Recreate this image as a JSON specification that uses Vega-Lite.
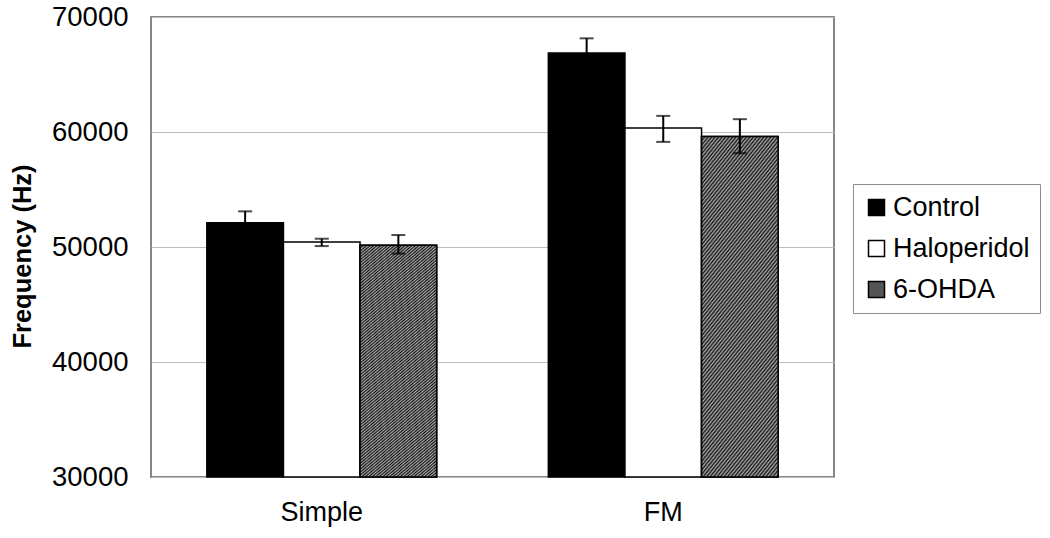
{
  "$schema": "https://vega.github.io/schema/vega-lite/v6.json",
  "width": 683,
  "height": 460,
  "autosize": {"type": "none"},
  "padding": {"left": 151, "top": 17, "right": 216, "bottom": 61},
  "background": "white",
  "config": {
    "font": "Liberation Sans",
    "view": {"stroke": "#868686", "strokeWidth": 2}
  },
  "data": {
    "values": [
      {"test": "Simple", "group": "Control", "mean": 52117, "lo": 51130, "hi": 53100},
      {"test": "Simple", "group": "Haloperidol", "mean": 50430, "lo": 50080, "hi": 50720},
      {"test": "Simple", "group": "6-OHDA", "mean": 50150, "lo": 49420, "hi": 51040},
      {"test": "FM", "group": "Control", "mean": 66860, "lo": 65575, "hi": 68145},
      {"test": "FM", "group": "Haloperidol", "mean": 60357, "lo": 59140, "hi": 61400},
      {"test": "FM", "group": "6-OHDA", "mean": 59608, "lo": 58153, "hi": 61115}
    ]
  },
  "encoding": {
    "x": {
      "field": "test", "type": "nominal", "sort": ["Simple", "FM"],
      "scale": {"paddingInner": 0.327, "paddingOuter": 0.1635},
      "axis": {"title": null, "labelAngle": 0, "labelFontSize": 27, "labelColor": "black", "ticks": false, "domain": false, "labelPadding": 22}
    },
    "xOffset": {
      "field": "group", "type": "nominal", "sort": ["Control", "Haloperidol", "6-OHDA"],
      "scale": {"paddingInner": 0, "paddingOuter": 0}
    }
  },
  "layer": [
    {
      "mark": {"type": "bar", "stroke": "black", "strokeWidth": 1.5},
      "encoding": {
        "y": {
          "field": "mean", "type": "quantitative",
          "scale": {"domain": [30000, 70000], "nice": false, "zero": false},
          "axis": {
            "title": "Frequency (Hz)", "titleFontSize": 25.5, "titleFontWeight": "bold", "titleColor": "black", "titlePadding": 16, "titleY": 239,
            "values": [30000, 40000, 50000, 60000, 70000], "format": "d",
            "labelFontSize": 27.5, "labelColor": "black", "labelPadding": 23,
            "ticks": false, "domain": false, "grid": true, "gridColor": "#bdbdbd", "gridWidth": 1.2
          }
        },
        "y2": {"datum": 30000},
        "fill": {
          "field": "group", "type": "nominal",
          "scale": {"domain": ["Control", "Haloperidol", "6-OHDA"], "range": ["#000000", "#ffffff", "#555555"]},
          "legend": {
            "title": null, "orient": "none", "legendX": 702, "legendY": 167,
            "strokeColor": "#8c8c8c", "padding": 10,
            "symbolType": "square", "symbolSize": 256, "symbolStrokeColor": "black", "symbolStrokeWidth": 1.5,
            "labelFontSize": 27, "labelColor": "black", "labelOffset": 3, "rowPadding": 13
          }
        }
      }
    },
    {
      "transform": [{"filter": "datum.group === '6-OHDA'"}],
      "mark": {
        "type": "bar", "stroke": "black", "strokeWidth": 1.5,
        "fill": {
          "gradient": "linear", "x1": 0, "y1": 0, "x2": 0.33, "y2": 1.18,
          "stops": [
            {"offset":0,"color":"#151515"},{"offset":0.005,"color":"#a8a8a8"},{"offset":0.01,"color":"#151515"},{"offset":0.015,"color":"#a8a8a8"},{"offset":0.02,"color":"#151515"},{"offset":0.025,"color":"#a8a8a8"},{"offset":0.03,"color":"#151515"},{"offset":0.035,"color":"#a8a8a8"},{"offset":0.04,"color":"#151515"},{"offset":0.045,"color":"#a8a8a8"},
            {"offset":0.05,"color":"#151515"},{"offset":0.055,"color":"#a8a8a8"},{"offset":0.06,"color":"#151515"},{"offset":0.065,"color":"#a8a8a8"},{"offset":0.07,"color":"#151515"},{"offset":0.075,"color":"#a8a8a8"},{"offset":0.08,"color":"#151515"},{"offset":0.085,"color":"#a8a8a8"},{"offset":0.09,"color":"#151515"},{"offset":0.095,"color":"#a8a8a8"},
            {"offset":0.1,"color":"#151515"},{"offset":0.105,"color":"#a8a8a8"},{"offset":0.11,"color":"#151515"},{"offset":0.115,"color":"#a8a8a8"},{"offset":0.12,"color":"#151515"},{"offset":0.125,"color":"#a8a8a8"},{"offset":0.13,"color":"#151515"},{"offset":0.135,"color":"#a8a8a8"},{"offset":0.14,"color":"#151515"},{"offset":0.145,"color":"#a8a8a8"},
            {"offset":0.15,"color":"#151515"},{"offset":0.155,"color":"#a8a8a8"},{"offset":0.16,"color":"#151515"},{"offset":0.165,"color":"#a8a8a8"},{"offset":0.17,"color":"#151515"},{"offset":0.175,"color":"#a8a8a8"},{"offset":0.18,"color":"#151515"},{"offset":0.185,"color":"#a8a8a8"},{"offset":0.19,"color":"#151515"},{"offset":0.195,"color":"#a8a8a8"},
            {"offset":0.2,"color":"#151515"},{"offset":0.205,"color":"#a8a8a8"},{"offset":0.21,"color":"#151515"},{"offset":0.215,"color":"#a8a8a8"},{"offset":0.22,"color":"#151515"},{"offset":0.225,"color":"#a8a8a8"},{"offset":0.23,"color":"#151515"},{"offset":0.235,"color":"#a8a8a8"},{"offset":0.24,"color":"#151515"},{"offset":0.245,"color":"#a8a8a8"},
            {"offset":0.25,"color":"#151515"},{"offset":0.255,"color":"#a8a8a8"},{"offset":0.26,"color":"#151515"},{"offset":0.265,"color":"#a8a8a8"},{"offset":0.27,"color":"#151515"},{"offset":0.275,"color":"#a8a8a8"},{"offset":0.28,"color":"#151515"},{"offset":0.285,"color":"#a8a8a8"},{"offset":0.29,"color":"#151515"},{"offset":0.295,"color":"#a8a8a8"},
            {"offset":0.3,"color":"#151515"},{"offset":0.305,"color":"#a8a8a8"},{"offset":0.31,"color":"#151515"},{"offset":0.315,"color":"#a8a8a8"},{"offset":0.32,"color":"#151515"},{"offset":0.325,"color":"#a8a8a8"},{"offset":0.33,"color":"#151515"},{"offset":0.335,"color":"#a8a8a8"},{"offset":0.34,"color":"#151515"},{"offset":0.345,"color":"#a8a8a8"},
            {"offset":0.35,"color":"#151515"},{"offset":0.355,"color":"#a8a8a8"},{"offset":0.36,"color":"#151515"},{"offset":0.365,"color":"#a8a8a8"},{"offset":0.37,"color":"#151515"},{"offset":0.375,"color":"#a8a8a8"},{"offset":0.38,"color":"#151515"},{"offset":0.385,"color":"#a8a8a8"},{"offset":0.39,"color":"#151515"},{"offset":0.395,"color":"#a8a8a8"},
            {"offset":0.4,"color":"#151515"},{"offset":0.405,"color":"#a8a8a8"},{"offset":0.41,"color":"#151515"},{"offset":0.415,"color":"#a8a8a8"},{"offset":0.42,"color":"#151515"},{"offset":0.425,"color":"#a8a8a8"},{"offset":0.43,"color":"#151515"},{"offset":0.435,"color":"#a8a8a8"},{"offset":0.44,"color":"#151515"},{"offset":0.445,"color":"#a8a8a8"},
            {"offset":0.45,"color":"#151515"},{"offset":0.455,"color":"#a8a8a8"},{"offset":0.46,"color":"#151515"},{"offset":0.465,"color":"#a8a8a8"},{"offset":0.47,"color":"#151515"},{"offset":0.475,"color":"#a8a8a8"},{"offset":0.48,"color":"#151515"},{"offset":0.485,"color":"#a8a8a8"},{"offset":0.49,"color":"#151515"},{"offset":0.495,"color":"#a8a8a8"},
            {"offset":0.5,"color":"#151515"},{"offset":0.505,"color":"#a8a8a8"},{"offset":0.51,"color":"#151515"},{"offset":0.515,"color":"#a8a8a8"},{"offset":0.52,"color":"#151515"},{"offset":0.525,"color":"#a8a8a8"},{"offset":0.53,"color":"#151515"},{"offset":0.535,"color":"#a8a8a8"},{"offset":0.54,"color":"#151515"},{"offset":0.545,"color":"#a8a8a8"},
            {"offset":0.55,"color":"#151515"},{"offset":0.555,"color":"#a8a8a8"},{"offset":0.56,"color":"#151515"},{"offset":0.565,"color":"#a8a8a8"},{"offset":0.57,"color":"#151515"},{"offset":0.575,"color":"#a8a8a8"},{"offset":0.58,"color":"#151515"},{"offset":0.585,"color":"#a8a8a8"},{"offset":0.59,"color":"#151515"},{"offset":0.595,"color":"#a8a8a8"},
            {"offset":0.6,"color":"#151515"},{"offset":0.605,"color":"#a8a8a8"},{"offset":0.61,"color":"#151515"},{"offset":0.615,"color":"#a8a8a8"},{"offset":0.62,"color":"#151515"},{"offset":0.625,"color":"#a8a8a8"},{"offset":0.63,"color":"#151515"},{"offset":0.635,"color":"#a8a8a8"},{"offset":0.64,"color":"#151515"},{"offset":0.645,"color":"#a8a8a8"},
            {"offset":0.65,"color":"#151515"},{"offset":0.655,"color":"#a8a8a8"},{"offset":0.66,"color":"#151515"},{"offset":0.665,"color":"#a8a8a8"},{"offset":0.67,"color":"#151515"},{"offset":0.675,"color":"#a8a8a8"},{"offset":0.68,"color":"#151515"},{"offset":0.685,"color":"#a8a8a8"},{"offset":0.69,"color":"#151515"},{"offset":0.695,"color":"#a8a8a8"},
            {"offset":0.7,"color":"#151515"},{"offset":0.705,"color":"#a8a8a8"},{"offset":0.71,"color":"#151515"},{"offset":0.715,"color":"#a8a8a8"},{"offset":0.72,"color":"#151515"},{"offset":0.725,"color":"#a8a8a8"},{"offset":0.73,"color":"#151515"},{"offset":0.735,"color":"#a8a8a8"},{"offset":0.74,"color":"#151515"},{"offset":0.745,"color":"#a8a8a8"},
            {"offset":0.75,"color":"#151515"},{"offset":0.755,"color":"#a8a8a8"},{"offset":0.76,"color":"#151515"},{"offset":0.765,"color":"#a8a8a8"},{"offset":0.77,"color":"#151515"},{"offset":0.775,"color":"#a8a8a8"},{"offset":0.78,"color":"#151515"},{"offset":0.785,"color":"#a8a8a8"},{"offset":0.79,"color":"#151515"},{"offset":0.795,"color":"#a8a8a8"},
            {"offset":0.8,"color":"#151515"},{"offset":0.805,"color":"#a8a8a8"},{"offset":0.81,"color":"#151515"},{"offset":0.815,"color":"#a8a8a8"},{"offset":0.82,"color":"#151515"},{"offset":0.825,"color":"#a8a8a8"},{"offset":0.83,"color":"#151515"},{"offset":0.835,"color":"#a8a8a8"},{"offset":0.84,"color":"#151515"},{"offset":0.845,"color":"#a8a8a8"},
            {"offset":0.85,"color":"#151515"},{"offset":0.855,"color":"#a8a8a8"},{"offset":0.86,"color":"#151515"},{"offset":0.865,"color":"#a8a8a8"},{"offset":0.87,"color":"#151515"},{"offset":0.875,"color":"#a8a8a8"},{"offset":0.88,"color":"#151515"},{"offset":0.885,"color":"#a8a8a8"},{"offset":0.89,"color":"#151515"},{"offset":0.895,"color":"#a8a8a8"},
            {"offset":0.9,"color":"#151515"},{"offset":0.905,"color":"#a8a8a8"},{"offset":0.91,"color":"#151515"},{"offset":0.915,"color":"#a8a8a8"},{"offset":0.92,"color":"#151515"},{"offset":0.925,"color":"#a8a8a8"},{"offset":0.93,"color":"#151515"},{"offset":0.935,"color":"#a8a8a8"},{"offset":0.94,"color":"#151515"},{"offset":0.945,"color":"#a8a8a8"},
            {"offset":0.95,"color":"#151515"},{"offset":0.955,"color":"#a8a8a8"},{"offset":0.96,"color":"#151515"},{"offset":0.965,"color":"#a8a8a8"},{"offset":0.97,"color":"#151515"},{"offset":0.975,"color":"#a8a8a8"},{"offset":0.98,"color":"#151515"},{"offset":0.985,"color":"#a8a8a8"},{"offset":0.99,"color":"#151515"},{"offset":0.995,"color":"#a8a8a8"},
            {"offset":1,"color":"#151515"}
          ]
        }
      },
      "encoding": {
        "y": {"field": "mean", "type": "quantitative"},
        "y2": {"datum": 30000}
      }
    },
    {
      "mark": {"type": "rule", "color": "black", "strokeWidth": 2},
      "encoding": {
        "y": {"field": "lo", "type": "quantitative"},
        "y2": {"field": "hi"}
      }
    },
    {
      "mark": {"type": "tick", "color": "black", "thickness": 2, "size": 14},
      "encoding": {"y": {"field": "lo", "type": "quantitative"}}
    },
    {
      "mark": {"type": "tick", "color": "black", "thickness": 2, "size": 14},
      "encoding": {"y": {"field": "hi", "type": "quantitative"}}
    }
  ]
}
